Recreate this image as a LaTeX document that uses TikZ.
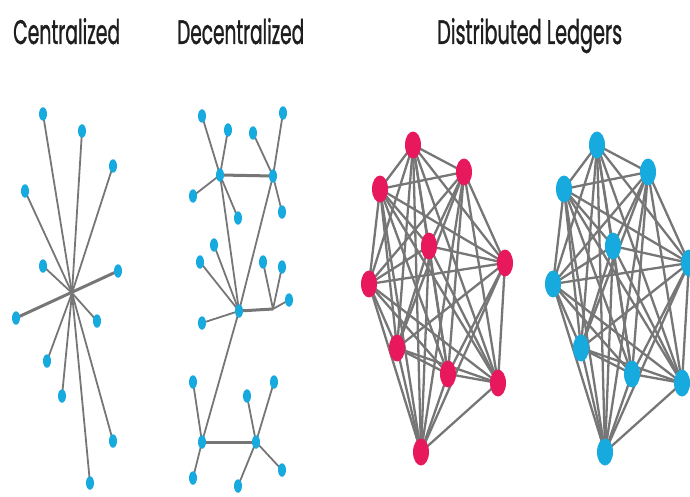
\documentclass[tikz,border=0pt]{standalone}
\usepackage{fontspec}
\usepackage{graphicx}
\newfontfamily\titlefont{Poppins}[FakeBold=1.3]
\usetikzlibrary{shapes.geometric}
\definecolor{dotblue}{RGB}{22,170,222}
\definecolor{dotpink}{RGB}{232,24,92}
\definecolor{linkgray}{RGB}{118,118,118}
\definecolor{titleink}{RGB}{30,30,30}
\tikzset{
  small/.style={ellipse,fill=dotblue,draw=none,minimum width=8pt,minimum height=13.5pt,inner sep=0pt},
  bigblue/.style={ellipse,fill=dotblue,draw=none,minimum width=16pt,minimum height=27pt,inner sep=0pt},
  bigpink/.style={ellipse,fill=dotpink,draw=none,minimum width=16pt,minimum height=27pt,inner sep=0pt},
  link/.style={draw=linkgray,line width=1.8pt},
  heavylink/.style={draw=linkgray,line width=3pt},
  meshlink/.style={draw=linkgray,line width=2.3pt},
  heading/.style={anchor=base west,inner sep=0pt,text=titleink},
}
\newcommand{\squeezed}[2]{\resizebox{#1}{\height}{\titlefont\fontsize{34}{34}\selectfont #2}}
\begin{document}
\begin{tikzpicture}[x=1pt,y=-1pt]
\useasboundingbox (0,0) rectangle (690,497);

% headings
\node[heading] (t1) at (13,44) {\squeezed{107pt}{Centralized}};
\node[heading] (t2) at (177,44) {\squeezed{127pt}{Decentralized}};
\node[heading] (t3) at (437,44) {\squeezed{185pt}{Distributed Ledgers}};

% ---------- centralized: one hub, all leaves tied to it ----------
\coordinate (hub) at (72,293);
\foreach \n/\x/\y in {c1/43/114, c2/82/131, c3/113/166, c4/25/191, c5/43/266,
  c6/118/271, c7/47/361, c8/62/396, c9/113/441, c10/90/483, c11/97/321, c12/16/318}
  { \coordinate (\n) at (\x,\y); }
\foreach \n in {c1,c2,c3,c4,c5,c7,c8,c9,c10,c11}
  { \path[link] (hub) -- (\n); }
\path[heavylink] (c12) -- (c6);
\foreach \n in {c1,c2,c3,c4,c5,c6,c7,c8,c9,c10,c11,c12}
  { \node[small] (\n dot) at (\n) {}; }

% ---------- decentralized: several hubs, each with its own leaves ----------
\coordinate (dA) at (220,175);
\coordinate (dB) at (273,176);
\coordinate (dC) at (239,311);
\coordinate (dJ) at (273,309);
\coordinate (dD) at (202,442);
\coordinate (dE) at (256,442);
\path[heavylink] (dA) -- (dB);
\path[heavylink] (dC) -- (dJ);
\path[heavylink] (dD) -- (dE);
\path[link] (dA) -- (dC);
\path[link] (dB) -- (dC);
\path[link] (dC) -- (dD);
\foreach \n/\x/\y/\h in {a1/202/116/dA, a2/228/130/dA, a3/193/196/dA, a4/238/218/dA,
  b1/253/133/dB, b2/283/113/dB, b3/282/212/dB,
  e1/200/262/dC, e2/214/245/dC, e3/202/323/dC,
  j1/263/262/dJ, j2/282/267/dJ, j3/289/300/dJ,
  f1/193/382/dD, f2/193/478/dD,
  g1/247/396/dE, g2/274/382/dE, g3/282/470/dE, g4/238/486/dE}
  { \coordinate (\n) at (\x,\y); \path[link] (\h) -- (\n); }
\foreach \n in {a1,a2,a3,a4,b1,b2,b3,e1,e2,e3,j1,j2,j3,f1,f2,g1,g2,g3,g4,dA,dB,dC,dD,dE}
  { \node[small] (\n dot) at (\n) {}; }

% ---------- distributed ledgers: two fully meshed copies ----------
\foreach \s/\dx/\sty in {p/0/bigpink, q/184/bigblue} {
  \begin{scope}[xshift=\dx pt]
    \foreach \i/\x/\y in {1/413/145, 2/464/172, 3/380/189, 4/429/246, 5/505/263,
      6/369/284, 7/397/348, 8/448/374, 9/498/383, 10/421/452}
      { \coordinate (\s\i) at (\x,\y); }
    \foreach \i in {1,...,10} {
      \foreach \j in {1,...,10} {
        \ifnum\i<\j \path[meshlink] (\s\i) -- (\s\j); \fi
      }
    }
    \foreach \i in {1,...,10} { \node[\sty] (\s\i dot) at (\s\i) {}; }
  \end{scope}
}
\end{tikzpicture}
\end{document}
